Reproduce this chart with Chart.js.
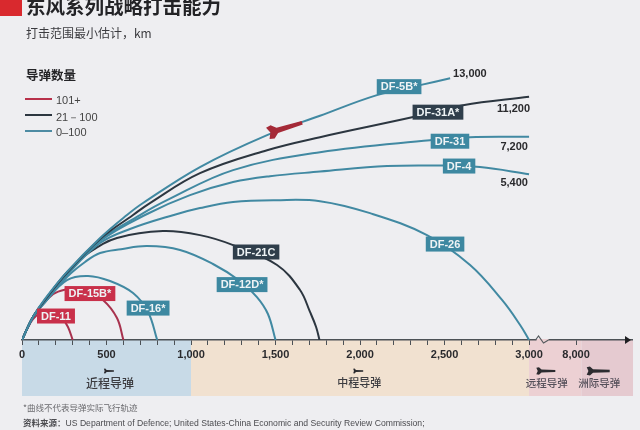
<!DOCTYPE html>
<html lang="zh">
<head>
<meta charset="utf-8">
<title>东风系列战略打击能力</title>
<script src="https://cdn.jsdelivr.net/npm/chart.js@4"></script>
<style>
  html,body{margin:0;padding:0;background:#eeeef1;overflow:hidden}
  body{width:640px;height:430px;position:relative;font-family:"Noto Sans CJK SC","Noto Sans",sans-serif;color:#2c2c30}
  canvas{position:absolute;left:0;top:0}
  .txt{position:absolute;white-space:nowrap;line-height:1}
  #bar{position:absolute;left:0;top:0;width:22px;height:16px;background:#d9292e}
  .sw{position:absolute;left:25px;width:27px;height:2px}
</style>
</head>
<body>
<canvas id="c" width="640" height="430"></canvas>
<div id="bar"></div>
<div class="txt" style="left:26px;top:-4px;font-size:19.5px;font-weight:700;color:#232326">东风系列战略打击能力</div>
<div class="txt" style="left:26px;top:27px;font-size:12px;color:#3a3a3e">打击范围最小估计，km</div>
<div class="txt" style="left:26px;top:69px;font-size:12.5px;font-weight:700;color:#232326">导弹数量</div>
<div class="sw" style="top:98px;background:#b8304a"></div>
<div class="sw" style="top:114px;background:#2c3640"></div>
<div class="sw" style="top:130px;background:#4d8ba3"></div>
<div class="txt" style="left:56px;top:94px;font:11px 'Liberation Sans';color:#444">101+</div>
<div class="txt" style="left:56px;top:110px;font:11px 'Liberation Sans';color:#444">21－100</div>
<div class="txt" style="left:56px;top:126px;font:11px 'Liberation Sans';color:#444">0–100</div>
<div class="txt" style="left:23px;top:403px;font-size:8.5px;color:#6a6a6e">*曲线不代表导弹实际飞行轨迹</div>
<div class="txt" style="left:23px;top:418px;font-size:8.5px;color:#4c4c50"><b>资料来源：</b><span style="font-family:'Liberation Sans';font-size:8.65px">US Department of Defence; United States-China Economic and Security Review Commission;</span></div>
<script>
// axis: one unit = 1 km up to 3,000, after that the axis is broken
const tickValues = [0,100,200,300,400,500,600,700,800,900,1000,1100,1200,1300,1400,1500,1600,1700,1800,1900,2000,2100,2200,2300,2400,2500,2600,2700,2800,2900,3000,3278];
const tickLabels = {0:'0',500:'500',1000:'1,000',1500:'1,500',2000:'2,000',2500:'2,500',3000:'3,000',3278:'8,000'};

const seriesNames = ['DF-11','DF-15B*','DF-16*','DF-12D*','DF-21C','DF-26','DF-4','DF-31','DF-31A*','DF-5B*'];
const seriesTiers = ['red','red','teal','teal','dark','teal','teal','teal','dark','teal'];
const rangeLabels = ['','','','','','','5,400','7,200','11,200','13,000'];

const df11X = [0,24,65,118,178,237,272,300];
const df11Y = [0,53,124,166,172,130,77,0];
const df15bX = [0,65,136,195,284,373,479,562,600];
const df15bY = [0,136,225,278,302,296,237,130,0];
const df16X = [0,65,136,266,391,521,657,746,800];
const df16Y = [0,136,225,355,379,349,278,166,0];
const df12dX = [0,65,136,266,373,462,586,740,935,1130,1290,1390,1455,1500];
const df12dY = [0,136,225,373,462,515,538,556,533,450,349,254,154,0];
const df21cX = [0,65,136,266,402,562,834,1053,1249,1509,1645,1704,1740,1760];
const df21cY = [0,136,237,402,521,604,645,621,562,444,296,166,77,0];
const df26X = [0,65,136,266,462,639,893,1053,1249,1503,1763,2059,2396,2651,2840,2947,3000];
const df26Y = [0,136,225,385,574,657,739,781,817,828,822,751,621,444,237,89,0];
const df4X = [0,65,136,266,462,740,994,1249,1467,1763,2160,2462,2710,3000];
const df4Y = [0,136,231,391,586,746,858,935,970,997,1030,1033,1024,982];
const df31X = [0,65,136,266,462,698,858,1249,1763,2414,2651,3000];
const df31Y = [0,136,237,397,592,740,828,1006,1112,1183,1201,1203];
const df31aX = [0,65,136,266,462,657,757,1053,1450,1763,2314,2609,3000];
const df31aY = [0,136,237,397,598,740,811,988,1124,1201,1320,1390,1440];
const df5bX = [0,65,136,266,462,621,716,1053,1450,1763,2100,2355,2533];
const df5bY = [0,136,243,403,604,740,811,1024,1213,1328,1450,1509,1550];
const seriesX = [df11X,df15bX,df16X,df12dX,df21cX,df26X,df4X,df31X,df31aX,df5bX];
const seriesY = [df11Y,df15bY,df16Y,df12dY,df21cY,df26Y,df4Y,df31Y,df31aY,df5bY];

// where the name tag and the range number of each series sit, in axis units
const tagX = [201,402,746,1302,1385,2503,2586,2532,2461,2231];
const tagY = [142,275,189,328,521,568,1030,1177,1349,1500];
const rangeX = [0,0,0,0,0,0,2912,2912,2908,2650];
const rangeY = [0,0,0,0,0,0,927,1142,1368,1574];

const zoneNames = ['近程导弹','中程导弹','远程导弹','洲际导弹'];
const zoneStart = [0,1000,3000,3310];
const zoneEnd = [1000,3000,3310,3615];
const zoneColors = ['#c8dae7','#f1e1d0','#ecd0d3','#e5cad0'];
const zoneTextX = [520,1995,3105,3415];
const zoneSizes = [12,11,10.5,10.5];
const zoneIcon = [10,10,19,23];

const tierLine = {red:'#a8324e',dark:'#2c3640',teal:'#4189a2'};
const tierTag = {red:'#c9304a',dark:'#2f3e4b',teal:'#3d88a1'};

function tag(ctx,text,cx,cy,bg){
  ctx.font = 'bold 11px "Liberation Sans"';
  const w = ctx.measureText(text).width+8, h = 15;
  ctx.fillStyle = bg;
  ctx.fillRect(cx-w/2,cy-h/2,w,h);
  ctx.fillStyle = '#eef3f5';
  ctx.textAlign = 'center'; ctx.textBaseline = 'middle';
  ctx.fillText(text,cx,cy+.5);
}
function rocket(ctx,x,y,len,angle,color){
  ctx.save(); ctx.translate(x,y); ctx.rotate(angle); ctx.fillStyle = color;
  const h = len/2, r = Math.max(1,len*.075);
  ctx.beginPath();
  ctx.moveTo(h,-r*.7);ctx.lineTo(-h*.45,-r);ctx.lineTo(-h*.72,-r*2.6);ctx.lineTo(-h,-r*2.2);ctx.lineTo(-h*.85,0);
  ctx.lineTo(-h,r*2.2);ctx.lineTo(-h*.72,r*2.6);ctx.lineTo(-h*.45,r);ctx.lineTo(h,r*.7);
  ctx.closePath(); ctx.fill(); ctx.restore();
}

const bands = {
  id:'bands',
  beforeDraw(chart){
    const {ctx,scales:{x},chartArea:a} = chart;
    zoneNames.forEach((n,i)=>{
      ctx.fillStyle = zoneColors[i];
      ctx.fillRect(x.getPixelForValue(zoneStart[i]),a.bottom,x.getPixelForValue(zoneEnd[i])-x.getPixelForValue(zoneStart[i]),56);
    });
  },
  afterDraw(chart){
    const {ctx,scales:{x,y},chartArea:a} = chart;
    ctx.save();
    // zone names and their little missiles
    zoneNames.forEach((n,i)=>{
      const px = x.getPixelForValue(zoneTextX[i]);
      ctx.font = '500 '+zoneSizes[i]+'px "Noto Sans CJK SC"';
      ctx.fillStyle = i<2 ? '#3c3c40' : '#55505a'; ctx.textAlign = 'center'; ctx.textBaseline = 'middle';
      ctx.fillText(n,px,a.bottom+43);
      rocket(ctx,px-1,a.bottom+31,zoneIcon[i],0,'#2c2c30');
    });
    // broken axis + arrow head
    const b = x.getPixelForValue(3050);
    ctx.fillStyle = '#ecd0d3'; ctx.fillRect(b-1,a.bottom-1,12,3);
    ctx.strokeStyle = '#555a5e'; ctx.lineWidth = 1.2;
    ctx.beginPath(); ctx.moveTo(b-2,a.bottom);ctx.lineTo(b+1,a.bottom-4);ctx.lineTo(b+6,a.bottom+3);ctx.lineTo(b+11,a.bottom);ctx.stroke();
    ctx.fillStyle = '#1f1f22';
    ctx.beginPath(); ctx.moveTo(a.right-1,a.bottom);ctx.lineTo(a.right-7,a.bottom-4);ctx.lineTo(a.right-7,a.bottom+4);ctx.closePath();ctx.fill();
    // red missile flying on the DF-5B* curve
    rocket(ctx,x.getPixelForValue(1556),y.getPixelForValue(1255),36,-.3,'#a52a38');
    // name tags and range numbers
    seriesNames.forEach((n,i)=>{
      tag(ctx,n,x.getPixelForValue(tagX[i]),y.getPixelForValue(tagY[i]),tierTag[seriesTiers[i]]);
      if(rangeLabels[i]){
        ctx.font = 'bold 11px "Liberation Sans"';
        ctx.fillStyle = '#2a2a2d'; ctx.textAlign = 'center'; ctx.textBaseline = 'middle';
        ctx.fillText(rangeLabels[i],x.getPixelForValue(rangeX[i]),y.getPixelForValue(rangeY[i]));
      }
    });
    ctx.restore();
  }
};

new Chart(document.getElementById('c'),{
  type:'line',
  data:{datasets:seriesNames.map((n,i)=>({
    label:n,
    data:seriesX[i].map((v,j)=>({x:v,y:seriesY[i][j]})),
    borderColor:tierLine[seriesTiers[i]],
    borderWidth:2,
    pointRadius:0,
    tension:.38,
    order:seriesNames.length-i,
    fill:false
  }))},
  options:{
    responsive:false,animation:false,
    layout:{padding:{left:22,right:8,top:36,bottom:0}},
    plugins:{legend:{display:false},tooltip:{enabled:false},title:{display:false}},
    scales:{
      x:{
        type:'linear',min:0,max:3609,
        afterBuildTicks(s){s.ticks = tickValues.map(v=>({value:v}));},
        afterFit(s){s.height = 90;},
        border:{display:true,color:'#4c5156',width:1.4},
        grid:{drawOnChartArea:false,drawTicks:true,tickLength:5,color:'#4c5156'},
        ticks:{
          autoSkip:false,maxRotation:0,padding:3,color:'#2a2a2d',
          font:{family:'"Liberation Sans"',size:11,weight:'bold'},
          callback:v=>tickLabels[v]||''
        }
      },
      y:{type:'linear',min:0,max:1800,display:false}
    }
  },
  plugins:[bands]
});
</script>
</body>
</html>
